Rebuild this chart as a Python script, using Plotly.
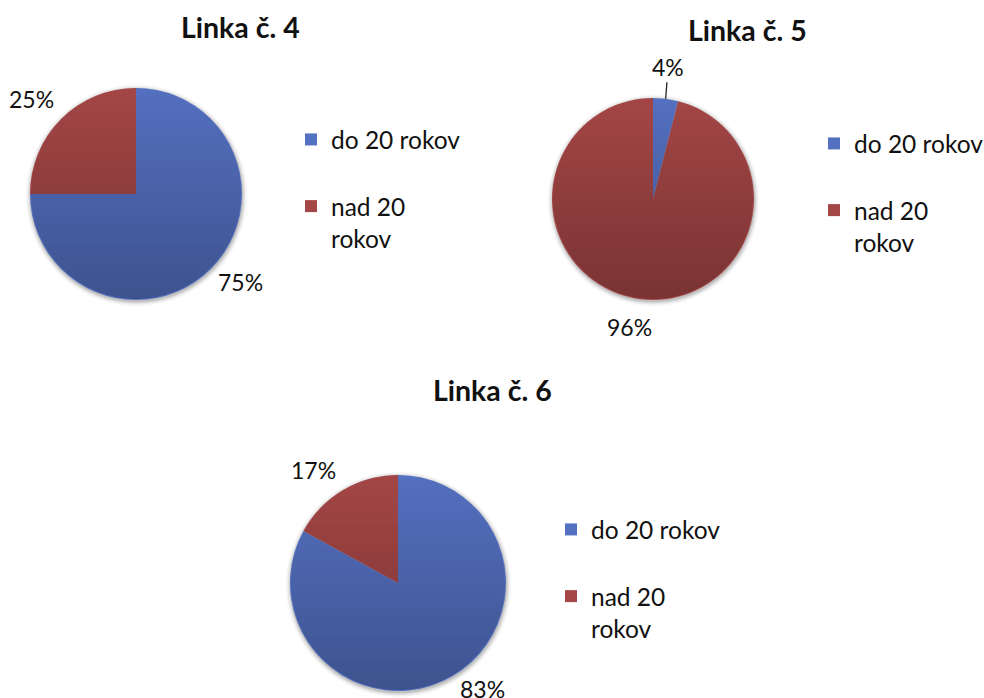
import base64
import math
import struct
import zlib

import numpy as np
import plotly.graph_objects as go

# Age structure of passengers on three lines (share of each group, %)
categories = ["do 20 rokov<br> ", "nad 20<br>rokov"]
titles = ["Linka č. 4", "Linka č. 5", "Linka č. 6"]
line4 = [75, 25]
line5 = [4, 96]
line6 = [83, 17]
series = [line4, line5, line6]

colors = ["#5470c0", "#a44646"]
FONT = "Lato"
W, H = 984, 698

# pie placement in pixels: centre x, centre y, radius
pie_geo = [(136, 194, 106), (653, 199, 101), (398, 583, 108)]
# title centres and legend anchors (pixels)
title_pos = [(240, 27), (747, 30), (493, 390)]
legend_pos = [(291, 117), (814, 121), (551, 507)]
GRAD_ALPHA = 0.26   # darkening at the bottom of each pie
SHADOW_PAD = 8      # extra pixels around the disc for the soft shadow


def png_uri(rgba):
    """Encode an RGBA uint8 array as a PNG data URI."""
    h, w = rgba.shape[:2]
    raw = b"".join(b"\x00" + rgba[i].tobytes() for i in range(h))

    def chunk(tag, data):
        return (struct.pack(">I", len(data)) + tag + data
                + struct.pack(">I", zlib.crc32(tag + data) & 0xFFFFFFFF))

    png = (b"\x89PNG\r\n\x1a\n"
           + chunk(b"IHDR", struct.pack(">IIBBBBB", w, h, 8, 6, 0, 0, 0))
           + chunk(b"IDAT", zlib.compress(raw, 9))
           + chunk(b"IEND", b""))
    return "data:image/png;base64," + base64.b64encode(png).decode()


def gradient_png(size):
    """Vertical transparent-to-dark gradient clipped to a disc."""
    n = size * 2
    yy, xx = np.mgrid[0:n, 0:n] + 0.5
    c = n / 2.0
    dist = np.hypot(xx - c, yy - c)
    inside = np.clip(c - 1.0 - dist + 0.5, 0, 1)
    alpha = (yy / n) * GRAD_ALPHA * inside
    rgba = np.zeros((n, n, 4), dtype=np.uint8)
    rgba[..., 3] = np.round(alpha * 255).astype(np.uint8)
    return png_uri(rgba)


def shadow_png(size):
    """Soft grey halo around a disc, slightly heavier towards the bottom."""
    n = 2 * (size + SHADOW_PAD)
    yy, xx = np.mgrid[0:n, 0:n] + 0.5
    c = n / 2.0
    dist = np.hypot(xx - c - 0.5, yy - c - 1.5)
    fall = np.clip(1 - (dist - size) / 6.0, 0, 1) ** 2
    alpha = 0.32 * fall
    rgba = np.zeros((n, n, 4), dtype=np.uint8)
    rgba[..., :3] = 60
    rgba[..., 3] = np.round(alpha * 255).astype(np.uint8)
    return png_uri(rgba)


def label_offset(ux, uy):
    """Offset of a percentage label's centre from the rim point of its slice."""
    dx = 30 * math.copysign(min(1.0, abs(ux) / 0.35), ux)
    base = 20.5 if uy < 0 else 13.5
    dy = math.copysign(base + 15 * max(0.0, (abs(uy) - 0.9) / 0.1), uy)
    return dx, dy


fig = go.Figure()
legend_names = ["legend", "legend2", "legend3"]
annotations = []
images = []
for i, vals in enumerate(series):
    cx, cy, r = pie_geo[i]
    fig.add_trace(go.Pie(
        labels=categories,
        values=vals,
        sort=False,
        direction="clockwise",
        rotation=0,
        marker=dict(colors=colors, line=dict(width=0)),
        textinfo="none",
        domain=dict(x=[(cx - r) / W, (cx + r) / W],
                    y=[1 - (cy + r) / H, 1 - (cy - r) / H]),
        legend=legend_names[i],
        legendgroup=f"linka{i}",
        hoverinfo="label+percent",
    ))

    rs = r + SHADOW_PAD
    images.append(dict(
        source=shadow_png(r), xref="paper", yref="paper",
        x=(cx - rs) / W, y=1 - (cy - rs) / H, sizex=2 * rs / W, sizey=2 * rs / H,
        xanchor="left", yanchor="top", sizing="stretch", layer="below",
    ))
    images.append(dict(
        source=gradient_png(r), xref="paper", yref="paper",
        x=(cx - r) / W, y=1 - (cy - r) / H, sizex=2 * r / W, sizey=2 * r / H,
        xanchor="left", yanchor="top", sizing="stretch", layer="above",
    ))

    # percentage labels placed outside each slice's mid-angle
    total = float(sum(vals))
    start = 0.0
    for v in vals:
        share = v / total
        mid = (start + share / 2) * 2 * math.pi
        start += share
        text = f"{round(share * 100):d}%"
        ux, uy = math.sin(mid), -math.cos(mid)
        tx, ty = cx + r * ux, cy + r * uy
        if share < 0.06:
            # thin slice: label lifted above the rim with a leader line
            annotations.append(dict(
                text=text, x=tx / W, y=1 - ty / H, xref="paper", yref="paper",
                ax=2.5, ay=-32, axref="pixel", ayref="pixel",
                showarrow=True, arrowhead=0, arrowwidth=1.3, arrowcolor="#222222",
                standoff=0, startstandoff=0,
                font=dict(family=FONT, size=23, color="#111111"),
            ))
        else:
            dx, dy = label_offset(ux, uy)
            annotations.append(dict(
                text=text, x=(tx + dx) / W, y=1 - (ty + dy) / H,
                xref="paper", yref="paper",
                xanchor="center", yanchor="middle", showarrow=False,
                font=dict(family=FONT, size=23, color="#111111"),
            ))

for (tx, ty), t in zip(title_pos, titles):
    annotations.append(dict(
        text=f"<b>{t}</b>", x=tx / W, y=1 - ty / H, xref="paper", yref="paper",
        xanchor="center", yanchor="middle", showarrow=False,
        font=dict(family=FONT, size=28.5, color="#111111"),
    ))

legend_common = dict(
    font=dict(family=FONT, size=24.5, color="#111111"),
    valign="top", bgcolor="rgba(0,0,0,0)", xanchor="left", yanchor="top",
)
layout_legends = {}
for name, (lx, ly) in zip(legend_names, legend_pos):
    layout_legends[name] = dict(x=lx / W, y=1 - ly / H, **legend_common)

fig.update_layout(
    width=W, height=H,
    margin=dict(l=0, r=0, t=0, b=0, autoexpand=False),
    paper_bgcolor="white",
    plot_bgcolor="white",
    annotations=annotations,
    images=images,
    **layout_legends,
)

fig.write_html("out.html")
